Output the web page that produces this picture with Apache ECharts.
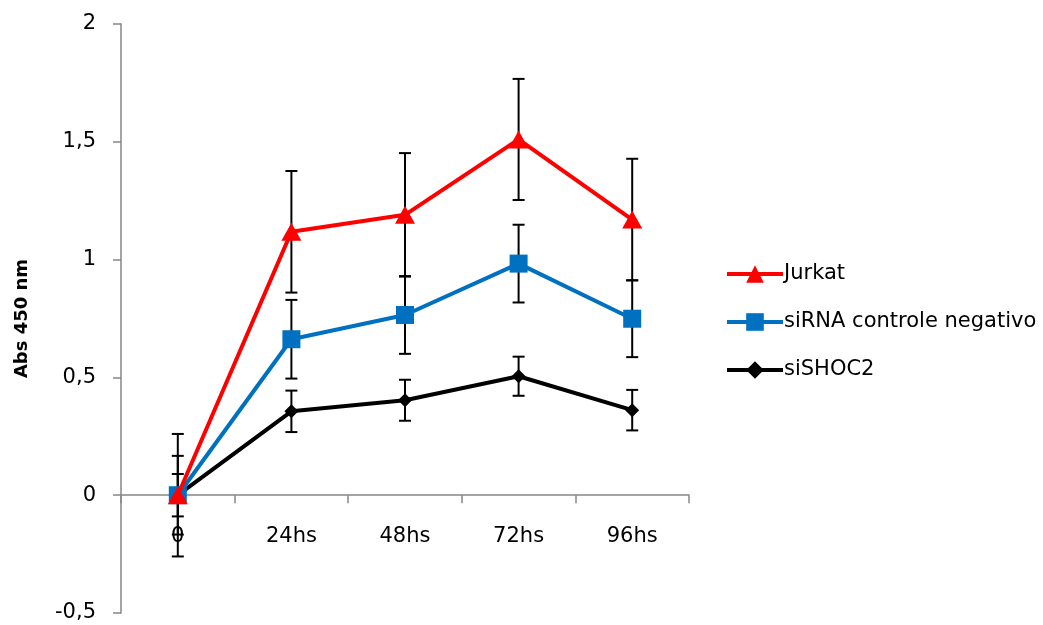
<!DOCTYPE html>
<html>
<head>
<meta charset="utf-8">
<script src="https://cdn.jsdelivr.net/npm/echarts@6/dist/echarts.min.js"></script>
<style>
html,body{margin:0;padding:0;background:#fff;}
#chart{width:1043px;height:625px;}
</style>
</head>
<body>
<div id="chart"></div>
<script>
const categories = ['0', '24hs', '48hs', '72hs', '96hs'];
const yTicks = { min: -0.5, max: 2, interval: 0.5 };

const jurkat = [0, 1.118, 1.19, 1.51, 1.17];
const jurkatErr = [0.26, 0.258, 0.262, 0.257, 0.258];

const sirnaCtrl = [0, 0.662, 0.765, 0.983, 0.749];
const sirnaCtrlErr = [0.167, 0.167, 0.165, 0.165, 0.163];

const siSHOC2 = [0, 0.356, 0.403, 0.505, 0.361];
const siSHOC2Err = [0.09, 0.088, 0.087, 0.083, 0.086];

const seriesNames = ['Jurkat', 'siRNA controle negativo', 'siSHOC2'];
const colors = ['#FF0000', '#0070C0', '#000000'];

function errData(vals, errs) {
  return vals.map((v, i) => [i, v - errs[i], v + errs[i]]);
}

function renderErr(params, api) {
  const x = api.value(0);
  const lo = api.coord([x, api.value(1)]);
  const hi = api.coord([x, api.value(2)]);
  const hw = 6;
  const style = { stroke: '#000', lineWidth: 2 };
  return {
    type: 'group',
    children: [
      { type: 'line', shape: { x1: lo[0], y1: lo[1], x2: hi[0], y2: hi[1] }, style: style },
      { type: 'line', shape: { x1: lo[0] - hw, y1: lo[1], x2: lo[0] + hw, y2: lo[1] }, style: style },
      { type: 'line', shape: { x1: hi[0] - hw, y1: hi[1], x2: hi[0] + hw, y2: hi[1] }, style: style }
    ]
  };
}

const font = 'DejaVu Sans';
const W = 1043, H = 625;
const gridBox = { left: 121, right: 354, top: 24, bottom: 12 };
const gridH = H - gridBox.top - gridBox.bottom;
// place the category axis at value 0 of the y scale
const xAxisOffset = -gridH * (0 - yTicks.min) / (yTicks.max - yTicks.min);

const chart = echarts.init(document.getElementById('chart'));

const errSets = [
  errData(jurkat, jurkatErr),
  errData(sirnaCtrl, sirnaCtrlErr),
  errData(siSHOC2, siSHOC2Err)
];
const vals = [jurkat, sirnaCtrl, siSHOC2];
const symbols = ['triangle', 'rect', 'diamond'];
const symbolSizes = [[20, 18], 18, 14];
const zs = [5, 4, 3];

const series = [];
errSets.forEach((d, k) => {
  series.push({
    type: 'custom',
    name: 'err' + k,
    renderItem: renderErr,
    data: d,
    z: 1,
    silent: true,
    encode: { x: 0, y: [1, 2] }
  });
});
vals.forEach((v, k) => {
  series.push({
    type: 'line',
    name: seriesNames[k],
    data: v,
    symbol: symbols[k],
    symbolSize: symbolSizes[k],
    lineStyle: { color: colors[k], width: 4 },
    itemStyle: { color: colors[k] },
    z: zs[k]
  });
});

chart.setOption({
  animation: false,
  backgroundColor: '#ffffff',
  grid: Object.assign({ containLabel: false, outerBoundsMode: 'none' }, gridBox),
  legend: {
    data: seriesNames.map((n, k) => ({
      name: n,
      itemStyle: { color: colors[k] },
      lineStyle: { color: colors[k], width: 4 }
    })),
    orient: 'vertical',
    left: 725,
    top: 263,
    padding: 0,
    itemWidth: 56,
    itemHeight: 22,
    itemGap: 26,
    textStyle: { fontFamily: font, fontSize: 21, color: '#000', lineHeight: 22, padding: [0, 0, 0, -4] }
  },
  xAxis: {
    type: 'category',
    data: categories,
    boundaryGap: true,
    offset: xAxisOffset,
    axisLine: { onZero: false, lineStyle: { color: '#868686', width: 1.5 } },
    axisTick: { show: true, length: 8, lineStyle: { color: '#868686', width: 1.5 } },
    axisLabel: { fontFamily: font, fontSize: 21, color: '#000', margin: 31 },
    splitLine: { show: false }
  },
  yAxis: {
    type: 'value',
    min: yTicks.min,
    max: yTicks.max,
    interval: yTicks.interval,
    name: 'Abs 450 nm',
    nameLocation: 'middle',
    nameGap: 90,
    nameTextStyle: { fontFamily: font, fontSize: 18, fontWeight: 'bold', color: '#000' },
    axisLine: { show: true, lineStyle: { color: '#868686', width: 1.5 } },
    axisTick: { show: true, length: 8, lineStyle: { color: '#868686', width: 1.5 } },
    axisLabel: {
      fontFamily: font, fontSize: 21, color: '#000', margin: 25,
      formatter: v => String(v).replace('.', ',')
    },
    splitLine: { show: false }
  },
  series: series
});
</script>
</body>
</html>
